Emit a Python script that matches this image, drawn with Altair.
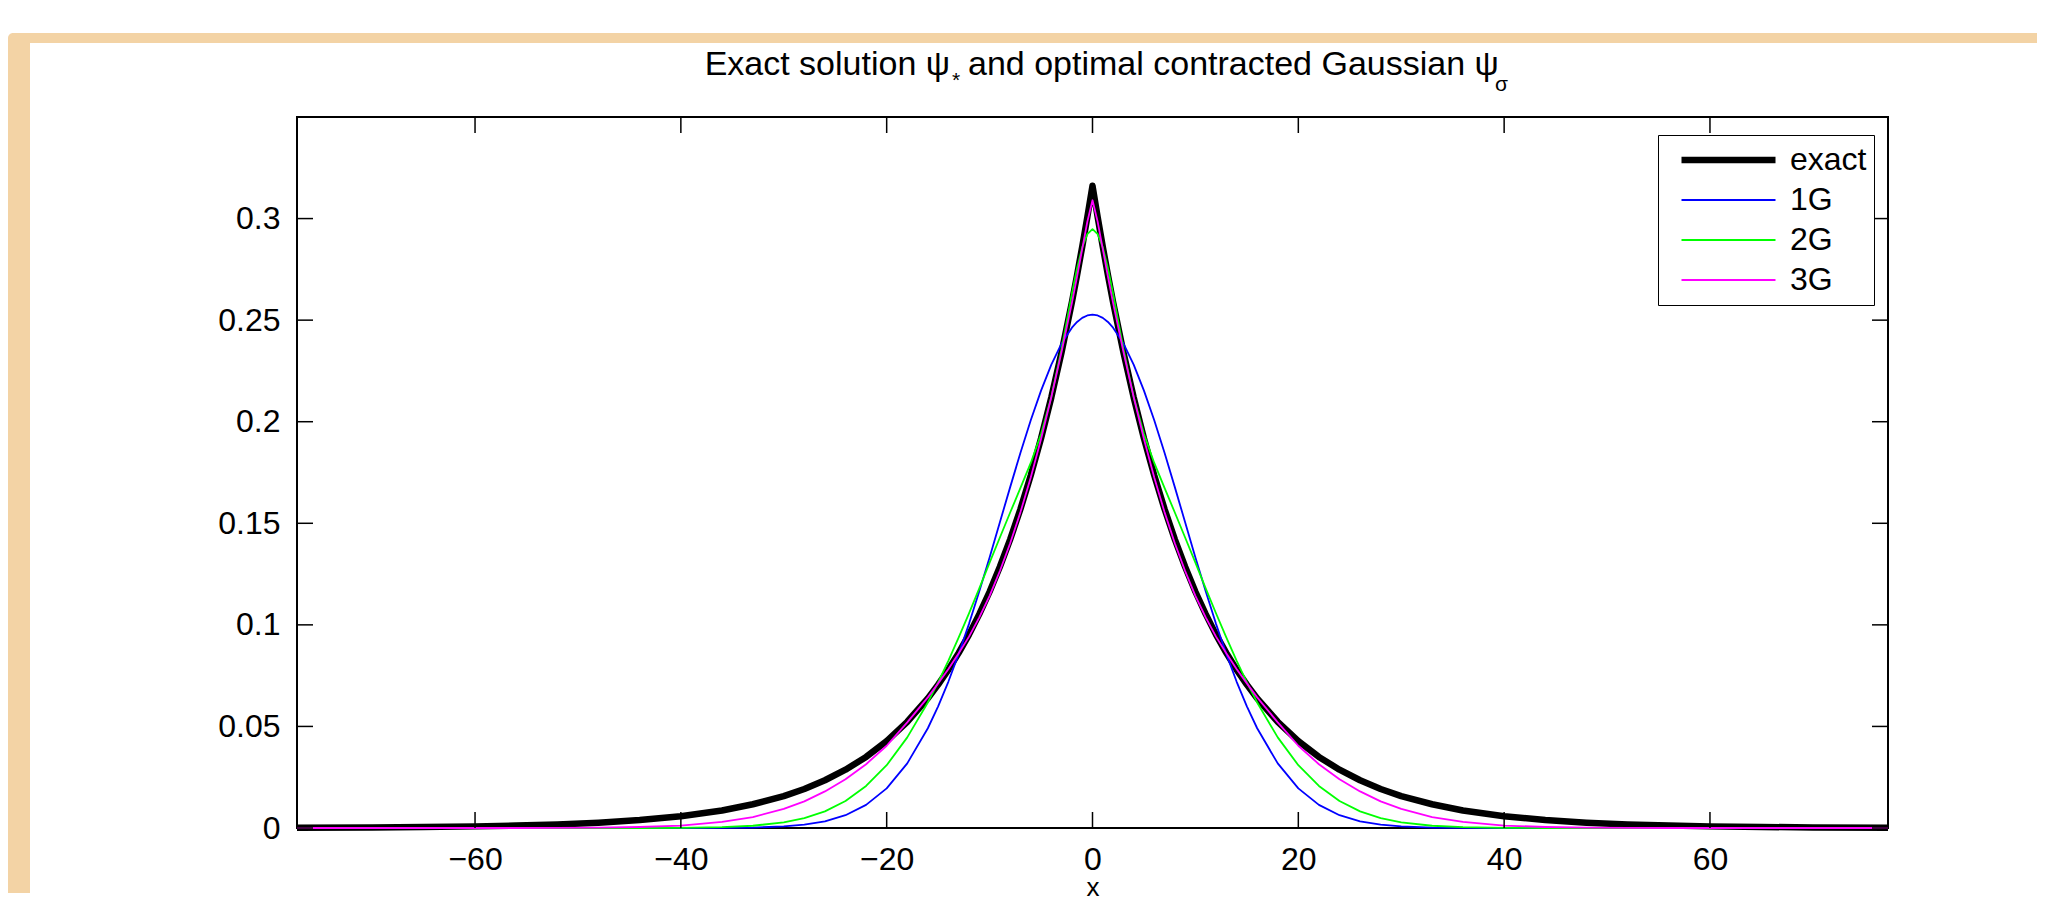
import altair as alt
import pandas as pd

# ---------------- data ----------------
x_vals = [-77.3, -70, -65, -60, -56, -52, -48, -44, -40, -36, -33, -30, -28, -26, -24, -22, -20, -18,
          -16, -15, -14, -13, -12, -11, -10, -9, -8, -7, -6, -5, -4, -3, -2, -1.5, -1, -0.5,
          0,
          0.5, 1, 1.5, 2, 3, 4, 5, 6, 7, 8, 9, 10, 11, 12, 13, 14, 15, 16,
          18, 20, 22, 24, 26, 28, 30, 33, 36, 40, 44, 48, 52, 56, 60, 65, 70, 77.3]

exact = [0.0001, 0.0003, 0.0005, 0.0008, 0.0012, 0.0017, 0.0026, 0.0039, 0.0058, 0.0086, 0.0117, 0.0157,
         0.0192, 0.0235, 0.0287, 0.0350, 0.0428, 0.0523, 0.0638, 0.0706, 0.0780, 0.0862, 0.0952, 0.1053,
         0.1163, 0.1286, 0.1421, 0.1570, 0.1736, 0.1918, 0.2120, 0.2343, 0.2589, 0.2722, 0.2861, 0.3008,
         0.3162,
         0.3008, 0.2861, 0.2722, 0.2589, 0.2343, 0.2120, 0.1918, 0.1736, 0.1570, 0.1421, 0.1286, 0.1163,
         0.1053, 0.0952, 0.0862, 0.0780, 0.0706, 0.0638, 0.0523, 0.0428, 0.0350, 0.0287, 0.0235, 0.0192,
         0.0157, 0.0117, 0.0086, 0.0058, 0.0039, 0.0026, 0.0017, 0.0012, 0.0008, 0.0005, 0.0003, 0.0001]

g1 = [0, 0, 0, 0, 0, 0, 0, 0, 0, 0.0001, 0.0002, 0.0008, 0.0017, 0.0033, 0.0063, 0.0114, 0.0195, 0.0318,
      0.0491, 0.0599, 0.0721, 0.0857, 0.1005, 0.1165, 0.1332, 0.1505, 0.1678, 0.1847, 0.2007, 0.2153,
      0.2281, 0.2386, 0.2463, 0.2491, 0.2511, 0.2523,
      0.2527,
      0.2523, 0.2511, 0.2491, 0.2463, 0.2386, 0.2281, 0.2153, 0.2007, 0.1847, 0.1678, 0.1505, 0.1332,
      0.1165, 0.1005, 0.0857, 0.0721, 0.0599, 0.0491, 0.0318, 0.0195, 0.0114, 0.0063, 0.0033, 0.0017,
      0.0008, 0.0002, 0.0001, 0, 0, 0, 0, 0, 0, 0, 0, 0]

g2 = [0, 0, 0, 0, 0, 0, 0, 0, 0.0001, 0.0004, 0.0011, 0.0028, 0.0049, 0.0082, 0.0133, 0.0207, 0.0309,
      0.0446, 0.0618, 0.0717, 0.0824, 0.0938, 0.1057, 0.1180, 0.1306, 0.1430, 0.1553, 0.1674, 0.1797,
      0.1939, 0.2122, 0.2360, 0.2630, 0.2755, 0.2858, 0.2924,
      0.2948,
      0.2924, 0.2858, 0.2755, 0.2630, 0.2360, 0.2122, 0.1939, 0.1797, 0.1674, 0.1553, 0.1430, 0.1306,
      0.1180, 0.1057, 0.0938, 0.0824, 0.0717, 0.0618, 0.0446, 0.0309, 0.0207, 0.0133, 0.0082, 0.0049,
      0.0028, 0.0011, 0.0004, 0.0001, 0, 0, 0, 0, 0, 0, 0, 0]

g3 = [0, 0, 0, 0, 0, 0.0001, 0.0002, 0.0005, 0.0012, 0.0030, 0.0054, 0.0094, 0.0131, 0.0180, 0.0240,
      0.0314, 0.0405, 0.0520, 0.0643, 0.0712, 0.0783, 0.0860, 0.0942, 0.1037, 0.1143, 0.1265, 0.1402,
      0.1555, 0.1725, 0.1915, 0.2122, 0.2345, 0.2585, 0.2715, 0.2850, 0.2985,
      0.3090,
      0.2985, 0.2850, 0.2715, 0.2585, 0.2345, 0.2122, 0.1915, 0.1725, 0.1555, 0.1402, 0.1265, 0.1143,
      0.1037, 0.0942, 0.0860, 0.0783, 0.0712, 0.0643, 0.0520, 0.0405, 0.0314, 0.0240, 0.0180, 0.0131,
      0.0094, 0.0054, 0.0030, 0.0012, 0.0005, 0.0002, 0.0001, 0, 0, 0, 0, 0]

series_names = ["exact", "1G", "2G", "3G"]
series_colors = ["#000000", "#0000ff", "#00ff00", "#ff00ff"]
series_widths = [6.5, 1.8, 1.8, 1.8]

x_ticks = [-60, -40, -20, 0, 20, 40, 60]
y_ticks = [0, 0.05, 0.1, 0.15, 0.2, 0.25, 0.3]
x_title = "x"
title_parts = ["Exact solution \u03c8", "*", "and optimal contracted Gaussian \u03c8", "\u03c3"]

# ---------------- layout ----------------
W, H = 1591, 711
XDOM = [-77.3, 77.3]
YDOM = [0, 0.35]
FONT = "Liberation Sans"
TICK = 16
BEIGE = "#F3D3A5"
TX = 9  # title horizontal shift

rows = []
for name, vals in zip(series_names, [exact, g1, g2, g3]):
    assert len(vals) == len(x_vals)
    for xv, yv in zip(x_vals, vals):
        rows.append({"x": xv, "y": yv, "series": name})
df = pd.DataFrame(rows)

xscale = alt.Scale(domain=XDOM, nice=False, zero=False)
yscale = alt.Scale(domain=YDOM, nice=False, zero=False)

xaxis = alt.Axis(values=x_ticks, title=x_title, format="d", labelFontSize=32, titleFontSize=26,
                 labelFont=FONT, titleFont=FONT, labelColor="black", titleColor="black",
                 titleFontWeight="normal", domain=False, ticks=False, tickSize=0, grid=False,
                 labelPadding=16, titleY=67, titleBaseline="alphabetic", labelFlush=False, zindex=1)
yaxis = alt.Axis(values=y_ticks, title=None, format="~g", labelFontSize=32, labelFont=FONT,
                 labelColor="black", domain=False, ticks=False, tickSize=0, grid=False,
                 labelPadding=17, labelFlush=False, zindex=1)

legend = alt.Legend(title=None, orient="none", legendX=1361, legendY=18, symbolType="stroke",
                    symbolSize=8836, labelFontSize=32, labelFont=FONT, labelColor="black",
                    strokeColor="black", fillColor="white", padding=7, clipHeight=36,
                    rowPadding=4, symbolOffset=13, labelOffset=11)

color = alt.Color("series:N", scale=alt.Scale(domain=series_names, range=series_colors), legend=legend)
swidth = alt.StrokeWidth("series:N",
                         scale=alt.Scale(type="ordinal", domain=series_names, range=series_widths),
                         legend=legend)

def X(field="x"):
    return alt.X(f"{field}:Q", scale=xscale, axis=xaxis)

def Y(field="y"):
    return alt.Y(f"{field}:Q", scale=yscale, axis=yaxis)

one = pd.DataFrame({"k": [0]})

# beige slide frame
frame_left = alt.Chart(one).mark_rect(color=BEIGE, cornerRadiusTopLeft=12).encode(
    x=alt.value(-289), x2=alt.value(-267), y=alt.value(-84), y2=alt.value(776))
frame_top = alt.Chart(one).mark_rect(color=BEIGE, cornerRadiusTopLeft=12).encode(
    x=alt.value(-289), x2=alt.value(1740), y=alt.value(-84), y2=alt.value(-74))

lines = []
for s in series_names:
    lines.append(
        alt.Chart(df).transform_filter(alt.datum.series == s)
        .mark_line(strokeJoin="round", strokeCap="butt")
        .encode(x=X(), y=Y(), color=color, strokeWidth=swidth, order=alt.Order("x:Q"))
    )

xt = pd.DataFrame({"x": x_ticks})
yt = pd.DataFrame({"y": y_ticks})
rule_style = dict(color="black", strokeWidth=1.5)
tick_bottom = alt.Chart(xt).mark_rule(**rule_style).encode(x=X(), y=alt.value(H), y2=alt.value(H - TICK))
tick_top = alt.Chart(xt).mark_rule(**rule_style).encode(x=X(), y=alt.value(0), y2=alt.value(TICK))
tick_left = alt.Chart(yt).mark_rule(**rule_style).encode(y=Y(), x=alt.value(0), x2=alt.value(TICK))
tick_right = alt.Chart(yt).mark_rule(**rule_style).encode(y=Y(), x=alt.value(W), x2=alt.value(W - TICK))

def title_text(txt, x, y, size, align):
    return alt.Chart(pd.DataFrame({"t": [txt]})).mark_text(
        font=FONT, fontSize=size, align=align, baseline="alphabetic", color="black"
    ).encode(text="t:N", x=alt.value(x), y=alt.value(y))

t1 = title_text(title_parts[0], 644 + TX, -42, 34, "right")
t2 = title_text(title_parts[1], 646 + TX, -30, 21, "left")
t3 = title_text(title_parts[2], 662 + TX, -42, 34, "left")
t4 = title_text(title_parts[3], 1189 + TX, -26, 21, "left")

chart = alt.layer(
    frame_left, frame_top, *lines, tick_bottom, tick_top, tick_left, tick_right, t1, t2, t3, t4
).properties(
    width=W, height=H, padding={"left": 0, "top": 25, "right": 0, "bottom": 0}
).configure(
    background="white"
).configure_view(
    stroke="black", strokeWidth=2
)

chart.save("out.html", embed_options={"renderer": "svg", "actions": False})
